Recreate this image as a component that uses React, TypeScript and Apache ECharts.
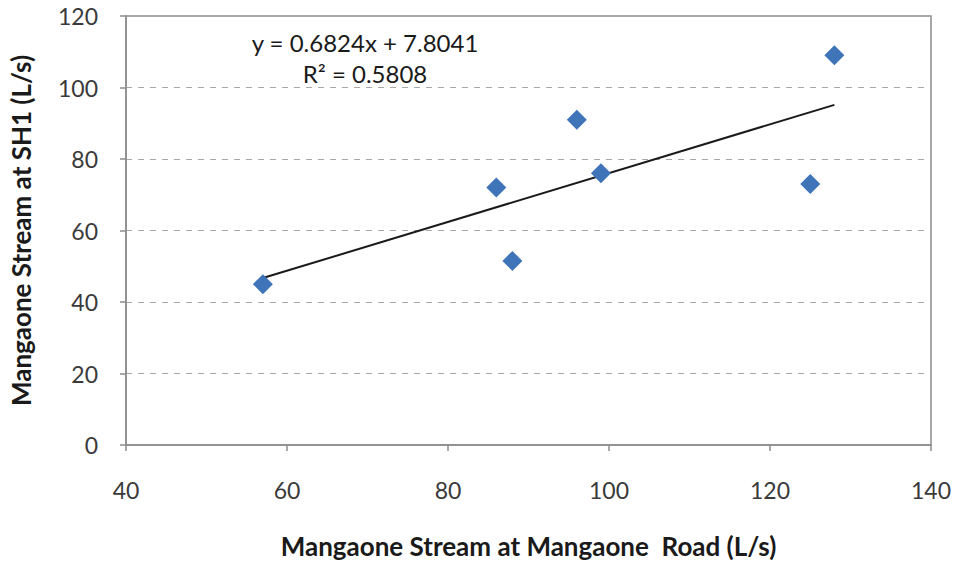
import React, { useEffect, useRef } from "react";
import * as echarts from "echarts";

const xValues = [57, 86, 88, 96, 99, 125, 128];
const yValues = [45, 72, 51.5, 91, 76, 73, 109];
const slope = 0.6824;
const intercept = 7.8041;
const rSquared = "0.5808";
const xTicks = { min: 40, max: 140, interval: 20 };
const yTicks = { min: 0, max: 120, interval: 20 };
const xName = "Mangaone Stream at Mangaone  Road (L/s)";
const yName = "Mangaone Stream at SH1 (L/s)";

export default function App() {
  const ref = useRef<HTMLDivElement>(null);
  useEffect(() => {
    if (!ref.current) return;
    const chart = echarts.init(ref.current, undefined, { renderer: "svg" });
    const pts = xValues.map((x, i) => [x, yValues[i]]);
    const xmin = Math.min(...xValues);
    const xmax = Math.max(...xValues);
    const trend = [
      [xmin, slope * xmin + intercept],
      [xmax, slope * xmax + intercept],
    ];
    const font = "Lato, 'Liberation Sans', sans-serif";
    chart.setOption({
      animation: false,
      backgroundColor: "#ffffff",
      textStyle: { fontFamily: font },
      grid: {
        left: 126,
        right: 26,
        top: 16,
        bottom: 117,
        show: true,
        borderColor: "#8c8c8c",
        borderWidth: 1.5,
        backgroundColor: "transparent",
      },
      xAxis: {
        type: "value",
        min: xTicks.min,
        max: xTicks.max,
        interval: xTicks.interval,
        name: xName,
        nameLocation: "middle",
        nameGap: 88,
        nameTextStyle: { fontSize: 26, fontWeight: "bold", color: "#1a1a1a", fontFamily: font },
        axisLine: { show: true, lineStyle: { color: "#8c8c8c", width: 1.5 } },
        axisTick: { show: true, length: 6, lineStyle: { color: "#8c8c8c", width: 1.5 } },
        axisLabel: { fontSize: 23, color: "#3a3a3a", margin: 33, fontFamily: font },
        splitLine: { show: false },
      },
      yAxis: {
        type: "value",
        min: yTicks.min,
        max: yTicks.max,
        interval: yTicks.interval,
        name: yName,
        nameLocation: "middle",
        nameGap: 92,
        nameTextStyle: { fontSize: 26, fontWeight: "bold", color: "#1a1a1a", fontFamily: font },
        axisLine: { show: true, lineStyle: { color: "#8c8c8c", width: 1.5 } },
        axisTick: { show: true, length: 6, lineStyle: { color: "#8c8c8c", width: 1.5 } },
        axisLabel: { fontSize: 23, color: "#3a3a3a", margin: 28, fontFamily: font },
        splitLine: { show: true, lineStyle: { color: "#a8a8a8", type: [6, 6], width: 1.2 } },
      },
      series: [
        {
          type: "line",
          data: trend,
          symbol: "none",
          lineStyle: { color: "#1a1a1a", width: 2 },
          z: 3,
        },
        {
          type: "scatter",
          data: pts,
          symbol: "diamond",
          symbolSize: [20, 20],
          itemStyle: { color: "#3f74b9", opacity: 1 },
          z: 4,
        },
      ],
      graphic: [
        {
          type: "text",
          x: 365,
          y: 42,
          style: {
            text: `y = ${slope}x + ${intercept}`,
            fontSize: 24,
            fontFamily: font,
            fill: "#1a1a1a",
            align: "center",
            verticalAlign: "middle",
          },
        },
        {
          type: "text",
          x: 365,
          y: 73,
          style: {
            text: `R\u00B2 = ${rSquared}`,
            fontSize: 24,
            fontFamily: font,
            fill: "#1a1a1a",
            align: "center",
            verticalAlign: "middle",
          },
        },
      ],
    });
    return () => chart.dispose();
  }, []);
  return <div ref={ref} style={{ width: 957, height: 564, position: "absolute", left: 0, top: 0 }} />;
}
